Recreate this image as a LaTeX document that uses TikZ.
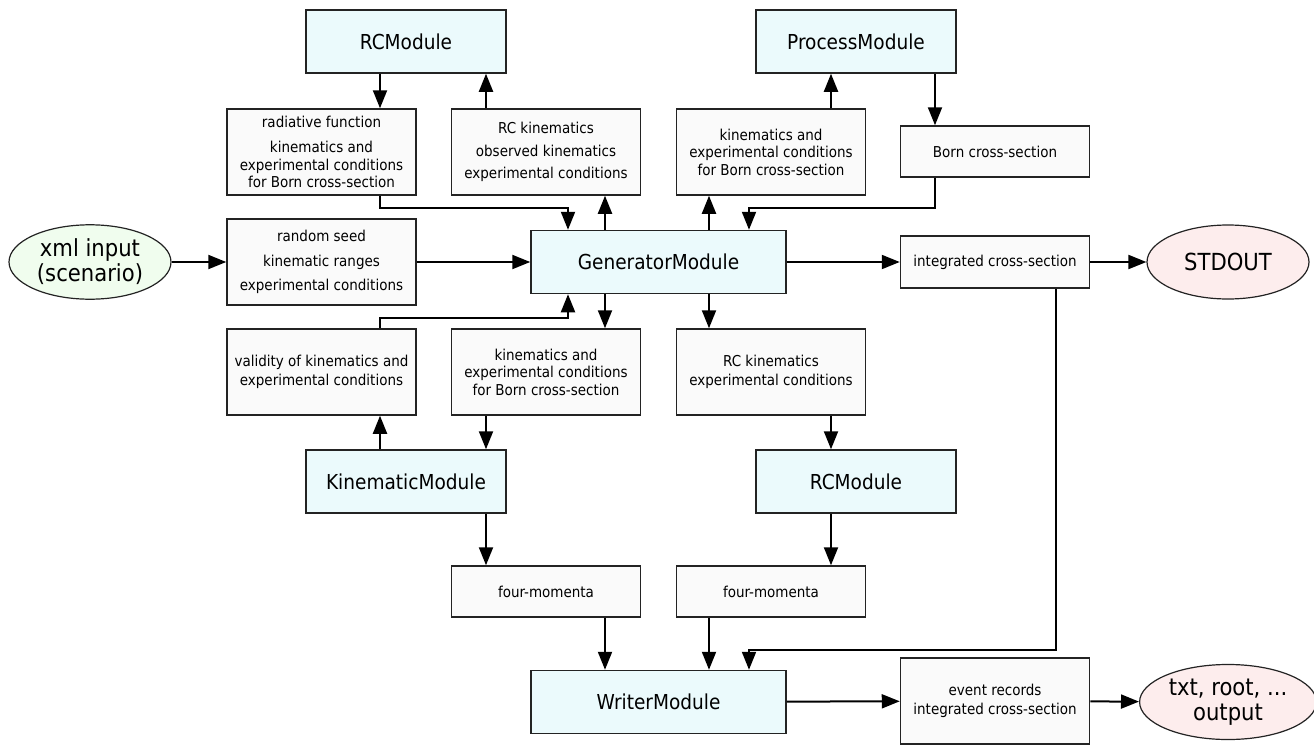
\documentclass[tikz,border=0pt]{standalone}
\usepackage{fontspec}
\setmainfont{DejaVu Sans Condensed}
\definecolor{ModuleColor}{RGB}{235,250,252}
\definecolor{DataColor}{RGB}{250,250,250}
\definecolor{InputColor}{RGB}{240,253,238}
\definecolor{OutputColor}{RGB}{253,237,237}
\definecolor{EdgeColor}{RGB}{35,35,35}
\usepackage{tikz}
\usetikzlibrary{arrows.meta, shapes.geometric, positioning}
\tikzstyle{module} = [draw=EdgeColor, line width=1.5pt, fill=ModuleColor, minimum width=200pt, minimum height=63pt, font=\fontsize{20.6}{24}\selectfont]
\tikzstyle{databox} = [draw=EdgeColor, line width=1.5pt, fill=DataColor, minimum width=189pt, align=center, font=\fontsize{15}{17.5}\selectfont]
\tikzstyle{terminal} = [draw=EdgeColor, line width=1.2pt, ellipse, minimum width=162pt, minimum height=74pt, align=center, font=\fontsize{23.5}{25}\selectfont]
\tikzstyle{flow} = [line width=2pt, black, -{Triangle[length=18pt, width=14pt]}]

\begin{document}
\begin{tikzpicture}[x=1pt, y=-1pt]
                \useasboundingbox (0,0) rectangle (1314,744);

                % lanes for the vertical connectors
                \coordinate (xa) at (380,0);
                \coordinate (xb) at (486,0);
                \coordinate (xc) at (568,0);
                \coordinate (xd) at (605,0);
                \coordinate (xe) at (709,0);
                \coordinate (xf) at (749,0);
                \coordinate (xg) at (831,0);
                \coordinate (xh) at (935,0);
                \coordinate (xi) at (1056,0);
                \coordinate (jogn) at (0,208);
                \coordinate (jogs) at (0,318);
                \coordinate (jogw) at (0,650);

                % modules
                \node[module] (rctop) at (406,41.5) {RCModule};
                \node[module] (proc) at (856,41.5) {ProcessModule};
                \node[module, minimum width=255pt] (gen) at (658.5,262) {GeneratorModule};
                \node[module] (kinmod) at (406,481.5) {KinematicModule};
                \node[module] (rcmod) at (856,481.5) {RCModule};
                \node[module, minimum width=255pt] (writer) at (658.5,702) {WriterModule};

                % data passed between modules
                \node[databox, minimum height=86pt] (rad) at (321.5,152) {radiative function\\[8pt] kinematics and\\ experimental conditions\\ for Born cross-section};
                \node[databox, minimum height=86pt] (rckin) at (546,152) {RC kinematics\\[5pt] observed kinematics\\[5pt] experimental conditions};
                \node[databox, minimum height=86pt] (kinb) at (771,152) {kinematics and\\ experimental conditions\\ for Born cross-section};
                \node[databox, minimum height=51pt] (born) at (995,151.5) {Born cross-section};
                \node[databox, minimum height=86pt] (seed) at (321.5,262) {random seed\\[7pt] kinematic ranges\\[7pt] experimental conditions};
                \node[databox, minimum height=52pt] (integ) at (995,262) {integrated cross-section};
                \node[databox, minimum height=86pt] (val) at (321.5,372) {validity of kinematics and\\[2pt] experimental conditions};
                \node[databox, minimum height=86pt] (kinc) at (546,372) {kinematics and\\ experimental conditions\\ for Born cross-section};
                \node[databox, minimum height=86pt] (rcexp) at (771,372) {RC kinematics\\[2pt] experimental conditions};
                \node[databox, minimum height=51pt] (fourl) at (546,591.5) {four-momenta};
                \node[databox, minimum height=51pt] (fourr) at (771,591.5) {four-momenta};
                \node[databox, minimum height=86pt] (events) at (995,701) {event records\\[2pt] integrated cross-section};

                % input and outputs
                \node[terminal, fill=InputColor] (xml) at (90,262) {xml input\\ (scenario)};
                \node[terminal, fill=OutputColor] (stdout) at (1228,262) {STDOUT};
                \node[terminal, fill=OutputColor] (output) at (1228,702) {txt, root, ...\\ output};

                % connectors
                \draw[flow] (rctop.south -| xa) -- (rad.north -| xa);
                \draw[flow] (rckin.north -| xb) -- (rctop.south -| xb);
                \draw[flow] (rad.south -| xa) -- (xa |- jogn) -| (gen.north -| xc);
                \draw[flow] (gen.north -| xd) -- (rckin.south -| xd);
                \draw[flow] (gen.north -| xe) -- (kinb.south -| xe);
                \draw[flow] (kinb.north -| xg) -- (proc.south -| xg);
                \draw[flow] (proc.south -| xh) -- (born.north -| xh);
                \draw[flow] (born.south -| xh) -- (xh |- jogn) -| (gen.north -| xf);

                \draw[flow] (xml.east) -- (seed.west);
                \draw[flow] (seed) -- (gen);
                \draw[flow] (gen) -- (integ);
                \draw[flow] (integ) -- (stdout);
                \draw[flow] (integ.south -| xi) -- (xi |- jogw) -| (writer.north -| xf);

                \draw[flow] (gen.south -| xd) -- (kinc.north -| xd);
                \draw[flow] (val.north -| xa) -- (xa |- jogs) -| (gen.south -| xc);
                \draw[flow] (gen.south -| xe) -- (rcexp.north -| xe);
                \draw[flow] (kinc.south -| xb) -- (kinmod.north -| xb);
                \draw[flow] (kinmod.north -| xa) -- (val.south -| xa);
                \draw[flow] (rcexp.south -| xg) -- (rcmod.north -| xg);
                \draw[flow] (kinmod.south -| xb) -- (fourl.north -| xb);
                \draw[flow] (rcmod.south -| xg) -- (fourr.north -| xg);
                \draw[flow] (fourl.south -| xd) -- (writer.north -| xd);
                \draw[flow] (fourr.south -| xe) -- (writer.north -| xe);

                \draw[flow] (writer) -- (events);
                \draw[flow] (events) -- (output);
            \end{tikzpicture}
\end{document}
